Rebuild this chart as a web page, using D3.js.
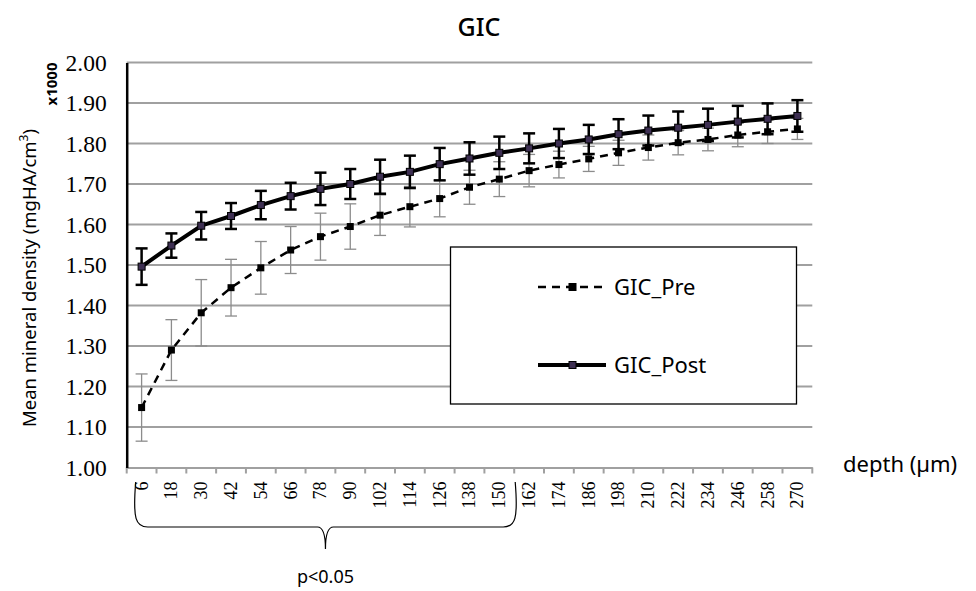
<!DOCTYPE html>
<html>
<head>
<meta charset="utf-8">
<script src="https://cdn.jsdelivr.net/npm/d3@7"></script>
<style>
  body { margin: 0; background: #fff; }
  svg { display: block; }
</style>
</head>
<body>
<div id="chart"></div>
<script>
// depth categories (µm)
const depths = [6, 18, 30, 42, 54, 66, 78, 90, 102, 114, 126, 138, 150, 162, 174, 186, 198, 210, 222, 234, 246, 258, 270];

// mean mineral density (x1000 mgHA/cm3)
const preMean = [1.148, 1.290, 1.382, 1.444, 1.493, 1.537, 1.570, 1.595, 1.623, 1.644, 1.664, 1.692, 1.712, 1.733, 1.748, 1.762, 1.777, 1.790, 1.802, 1.810, 1.821, 1.829, 1.836];
const preErr  = [0.083, 0.075, 0.082, 0.070, 0.065, 0.058, 0.058, 0.056, 0.050, 0.050, 0.045, 0.042, 0.043, 0.040, 0.033, 0.031, 0.031, 0.031, 0.030, 0.028, 0.029, 0.029, 0.026];
const postMean = [1.496, 1.548, 1.597, 1.621, 1.648, 1.670, 1.688, 1.700, 1.718, 1.730, 1.749, 1.763, 1.777, 1.788, 1.800, 1.810, 1.823, 1.832, 1.839, 1.846, 1.854, 1.861, 1.868];
const postErr  = [0.045, 0.030, 0.034, 0.032, 0.035, 0.033, 0.040, 0.037, 0.042, 0.040, 0.040, 0.040, 0.040, 0.037, 0.036, 0.036, 0.037, 0.037, 0.040, 0.040, 0.039, 0.038, 0.039];

const yTicks = [1.0, 1.1, 1.2, 1.3, 1.4, 1.5, 1.6, 1.7, 1.8, 1.9, 2.0];
const sigDepths = [6, 150]; // range marked p<0.05

const W = 976, H = 591;
const plot = { left: 126.7, right: 812.3, top: 62.5, bottom: 467.5 };
const SERIF = "'Liberation Serif', 'DejaVu Serif', serif";
const SANS = "'Noto Sans', 'Open Sans', sans-serif";

const svg = d3.select("#chart").append("svg")
  .attr("width", W)
  .attr("height", H);

const x = d3.scaleBand()
  .domain(depths)
  .range([plot.left, plot.right])
  .padding(0);

const y = d3.scaleLinear()
  .domain([1, 2])
  .range([plot.bottom, plot.top]);

const cx = d => x(d) + x.bandwidth() / 2;

// gridlines
svg.append("g")
  .selectAll("line")
  .data(yTicks.slice(1))
  .enter()
  .append("line")
  .attr("x1", plot.left)
  .attr("x2", plot.right)
  .attr("y1", d => y(d))
  .attr("y2", d => y(d))
  .attr("stroke", "#a0a0a0")
  .attr("stroke-width", 2);

// x axis (labels only, ticks drawn at band edges)
const xAxis = svg.append("g")
  .attr("transform", `translate(0,${plot.bottom})`)
  .call(d3.axisBottom(x).tickSize(0).tickPadding(0));
xAxis.select(".domain").attr("stroke", "#a0a0a0").attr("stroke-width", 2);
xAxis.selectAll(".tick text")
  .style("font-family", SERIF)
  .style("font-size", "18px")
  .attr("fill", "#000")
  .attr("text-anchor", "end")
  .attr("transform", "rotate(-90)")
  .attr("x", -14)
  .attr("y", 0)
  .attr("dy", "0.33em");

svg.append("g")
  .selectAll("line")
  .data(depths.map(d => x(d)).concat([plot.right]))
  .enter()
  .append("line")
  .attr("x1", d => d)
  .attr("x2", d => d)
  .attr("y1", plot.bottom)
  .attr("y2", plot.bottom + 6)
  .attr("stroke", "#a0a0a0")
  .attr("stroke-width", 2);

// y axis
const yAxis = svg.append("g")
  .attr("transform", `translate(${plot.left},0)`)
  .call(d3.axisLeft(y).tickValues(yTicks).tickFormat(d3.format(".2f")).tickSize(0).tickPadding(20));
yAxis.select(".domain").attr("stroke", "#000").attr("stroke-width", 2.5);
yAxis.selectAll(".tick text")
  .style("font-family", SERIF)
  .style("font-size", "23.5px")
  .attr("fill", "#000");

// error bars
function errorBars(mean, err, color, width, cap) {
  const g = svg.append("g");
  const rows = depths.map((d, i) => ({ d: d, lo: mean[i] - err[i], hi: mean[i] + err[i] }));
  g.selectAll("line.v").data(rows).enter().append("line")
    .attr("x1", r => cx(r.d)).attr("x2", r => cx(r.d))
    .attr("y1", r => y(r.lo)).attr("y2", r => y(r.hi))
    .attr("stroke", color).attr("stroke-width", width);
  ["lo", "hi"].forEach(k => {
    g.selectAll("line." + k).data(rows).enter().append("line")
      .attr("x1", r => cx(r.d) - cap).attr("x2", r => cx(r.d) + cap)
      .attr("y1", r => y(r[k])).attr("y2", r => y(r[k]))
      .attr("stroke", color).attr("stroke-width", width);
  });
}

errorBars(preMean, preErr, "#8c8c8c", 1.3, 6);

// lines
const line = d3.line()
  .x((v, i) => cx(depths[i]))
  .y(v => y(v));

svg.append("path")
  .datum(preMean)
  .attr("d", line)
  .attr("fill", "none")
  .attr("stroke", "#000")
  .attr("stroke-width", 2.5)
  .attr("stroke-dasharray", "8,6");

errorBars(postMean, postErr, "#000", 2.5, 6);

svg.append("path")
  .datum(postMean)
  .attr("d", line)
  .attr("fill", "none")
  .attr("stroke", "#000")
  .attr("stroke-width", 4);

// markers
svg.append("g").selectAll("rect")
  .data(preMean).enter().append("rect")
  .attr("x", (v, i) => cx(depths[i]) - 3.5)
  .attr("y", v => y(v) - 3.5)
  .attr("width", 7).attr("height", 7)
  .attr("fill", "#000");

svg.append("g").selectAll("rect")
  .data(postMean).enter().append("rect")
  .attr("x", (v, i) => cx(depths[i]) - 3.5)
  .attr("y", v => y(v) - 3.5)
  .attr("width", 7).attr("height", 7)
  .attr("fill", "#3d2f52")
  .attr("stroke", "#000")
  .attr("stroke-width", 1);

// legend
const lg = svg.append("g");
lg.append("rect")
  .attr("x", 450.5).attr("y", 247)
  .attr("width", 346).attr("height", 157)
  .attr("fill", "#fff")
  .attr("stroke", "#000")
  .attr("stroke-width", 1.3);

const legendItems = [
  { name: "GIC_Pre", y: 287, dash: "8,6", sw: 2.5, fill: "#000" },
  { name: "GIC_Post", y: 365, dash: null, sw: 4, fill: "#3d2f52" }
];
legendItems.forEach(it => {
  lg.append("line")
    .attr("x1", 538).attr("x2", 606)
    .attr("y1", it.y).attr("y2", it.y)
    .attr("stroke", "#000")
    .attr("stroke-width", it.sw)
    .attr("stroke-dasharray", it.dash);
  lg.append("rect")
    .attr("x", 569).attr("y", it.y - 3.5)
    .attr("width", 7).attr("height", 7)
    .attr("fill", it.fill)
    .attr("stroke", "#000").attr("stroke-width", 1);
  lg.append("text")
    .attr("x", 614).attr("y", it.y + 8)
    .style("font-family", SANS)
    .style("font-size", "22px")
    .attr("fill", "#000")
    .text(it.name);
});

// titles
svg.append("text")
  .attr("x", 479).attr("y", 36)
  .attr("text-anchor", "middle")
  .style("font-family", SANS)
  .style("font-size", "25px")
  .style("font-weight", 500)
  .text("GIC");

const yTitle = svg.append("text")
  .attr("transform", "translate(36,278) rotate(-90)")
  .attr("text-anchor", "middle")
  .style("font-family", SANS)
  .style("font-size", "18.5px")
  .attr("fill", "#000");
yTitle.append("tspan").text("Mean mineral density (mgHA/cm");
yTitle.append("tspan").attr("baseline-shift", "super").style("font-size", "12px").text("3");
yTitle.append("tspan").text(")");

svg.append("text")
  .attr("transform", "translate(57,84) rotate(-90)")
  .attr("text-anchor", "middle")
  .style("font-family", SANS)
  .style("font-size", "15px")
  .style("font-weight", "bold")
  .text("x1000");

svg.append("text")
  .attr("x", 843).attr("y", 472)
  .style("font-family", SANS)
  .style("font-size", "22px")
  .attr("fill", "#000")
  .text("depth (\u00b5m)");

// brace for significant range
const bx0 = x(sigDepths[0]) + 9, bx1 = x(sigDepths[1]) + x.bandwidth() + 1;
const bm = (bx0 + bx1) / 2;
const bTop = 482, bLine = 527, bTip = 549;
svg.append("path")
  .attr("d", `M${bx0},${bTop} C${bx0 - 3},${bLine - 8} ${bx0},${bLine} ${bx0 + 12},${bLine}
              L${bm - 8},${bLine} C${bm - 3},${bLine} ${bm},${bLine + 6} ${bm},${bTip}
              C${bm},${bLine + 6} ${bm + 3},${bLine} ${bm + 8},${bLine}
              L${bx1 - 12},${bLine} C${bx1},${bLine} ${bx1 + 3},${bLine - 8} ${bx1},${bTop}`)
  .attr("fill", "none")
  .attr("stroke", "#000")
  .attr("stroke-width", 1.2);

svg.append("text")
  .attr("x", bm).attr("y", 583)
  .attr("text-anchor", "middle")
  .style("font-family", SANS)
  .style("font-size", "18px")
  .text("p<0.05");
</script>
</body>
</html>
